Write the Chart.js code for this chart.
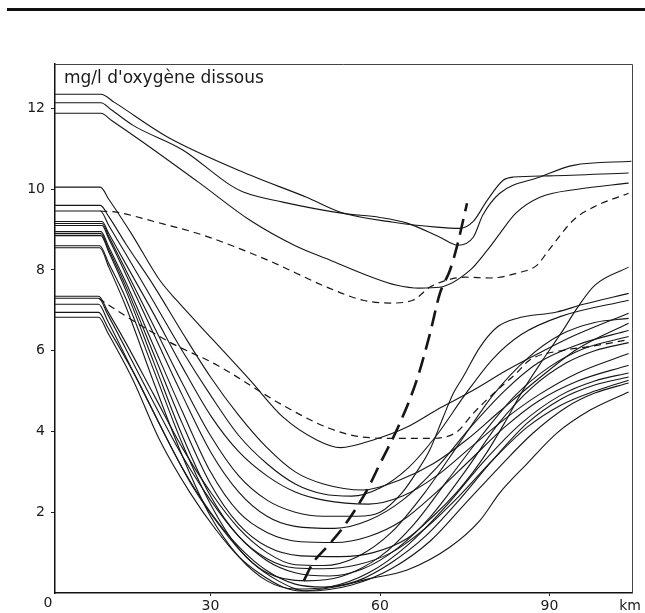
<!DOCTYPE html>
<html lang="fr">
<head>
<meta charset="UTF-8">
<title>Oxygène dissous</title>
<style>
    body { margin: 0; background: #fff; }
    #cadre { width: 645px; height: 613px; }
</style>
</head>
<body>
<div id="cadre"><canvas id="graphe" width="645" height="613"></canvas></div>

<script src="https://cdn.jsdelivr.net/npm/chart.js"></script>
<script>
// graduations
const xTicks = [30, 60, 90];
const yTicks = [2, 4, 6, 8, 10, 12];

// courbes du haut (départ > 11 mg/l) : [km, mg/l]
const t1 = [[2.5,12.35],[10.6,12.35],[13,12.15],[22.3,11.3],[37,10.35],[47,9.8],[53,9.43],[62.4,9.18],[70,9.06],[74.2,9.03],[76.5,9.2],[79,9.73],[81.8,10.22],[83.6,10.3],[90,10.33],[104,10.4]];
const t2 = [[2.5,12.14],[10.6,12.14],[12.5,11.96],[16.3,11.58],[25.1,10.97],[33.5,10.1],[35.8,9.93],[42.8,9.68],[53.5,9.4],[60,9.3],[64.8,9.16],[70.6,8.81],[73.8,8.61],[76.5,8.81],[78.2,9.36],[81.2,9.9],[88.3,10.3],[94.2,10.59],[104.5,10.69]];
const t3 = [[2.5,11.88],[10.6,11.88],[12.5,11.7],[19.3,11.04],[28.1,10.15],[37,9.23],[45,8.6],[51.2,8.24],[58,7.85],[63,7.62],[67,7.55],[70.5,7.57],[76,8.0],[79,8.49],[81.2,8.9],[84,9.4],[88.3,9.8],[95,10.0],[104,10.15]];

// courbes partant de 8,5 à 10 mg/l
const u1 = [[2.5,10.05],[10.5,10.05],[12,9.75],[16,8.9],[21,7.75],[24,7.25],[30.5,6.26],[37,5.27],[42.8,4.36],[48.8,3.79],[53,3.6],[58.8,3.79],[64.8,4.11],[70.6,4.58],[76.5,5.02],[82.5,5.52],[88.3,5.95],[94,6.35],[104,6.93]];
const u2 = [[2.5,9.6],[10.5,9.6],[12,9.32],[15,8.65],[20,7.6],[25,6.45],[30,5.35],[35,4.4],[40,3.6],[45,3.0],[50,2.7],[57,2.55],[63.5,2.8],[69.4,3.2],[75.4,3.8],[81.2,4.5],[88,5.3],[95,6.05],[104,6.68]];
const u3 = [[2.5,9.46],[10.5,9.46],[12,9.1],[15,8.4],[20,7.2],[25,6.0],[30,4.9],[35,3.9],[40,3.2],[45,2.7],[50,2.45],[55,2.4],[60,2.6],[65,3.1],[70,3.9],[75,4.9],[80,5.8],[85,6.4],[92,6.85],[104,7.25]];
const u4 = [[2.5,9.2],[10.8,9.2],[12,8.9],[15,8.15],[20,6.9],[25,5.6],[30,4.4],[35,3.5],[40,2.9],[45,2.5],[50,2.3],[58,2.2],[64,2.4],[70,2.9],[76,3.6],[82,4.3],[88,4.9],[95,5.45],[104,5.93]];
const u5 = [[2.5,9.15],[10.8,9.15],[12,8.83],[15,8.0],[20,6.6],[25,5.2],[30,3.9],[35,2.9],[40,2.3],[45,2.0],[50,1.9],[56,1.9],[60,2.0],[64,2.5],[66.5,3.0],[68.8,3.54],[71.2,4.36],[73,4.95],[74.7,5.35],[77.7,6.09],[80.7,6.58],[84.2,6.8],[91.3,6.96],[96,7.15],[104,7.42]];
const u6 = [[2.5,9.1],[10.8,9.1],[12,8.77],[15,7.9],[20,6.4],[25,4.9],[30,3.5],[35,2.5],[40,1.9],[45,1.65],[52,1.6],[58,1.8],[64,2.3],[70,3.1],[76,4.1],[82,5.0],[88,5.7],[95,6.15],[104,6.5]];
const u7 = [[2.5,8.95],[10.6,8.95],[12,8.57],[15,7.7],[20,6.1],[25,4.5],[30,3.0],[35,2.0],[40,1.5],[46,1.27],[52,1.25],[58,1.4],[64,1.8],[70,2.5],[76,3.3],[82,4.1],[88,4.75],[95,5.25],[104,5.64]];
const u8 = [[2.5,8.9],[10.6,8.9],[12,8.5],[15,7.6],[20,5.9],[25,4.2],[30,2.7],[35,1.7],[40,1.15],[46,0.92],[53,0.9],[58.8,1.0],[64.8,1.35],[69.4,1.9],[73.6,2.5],[76.5,3.0],[79,3.5],[82,4.2],[85,4.95],[88.8,5.77],[92.4,6.51],[95,7.08],[98,7.62],[104,8.07]];
const u9 = [[2.5,8.85],[10.6,8.85],[12,8.44],[15,7.5],[20,5.7],[25,3.9],[30,2.4],[35,1.4],[40,0.85],[45,0.62],[50,0.6],[56,0.7],[62,1.0],[68,1.6],[74,2.4],[80,3.3],[86,4.1],[92,4.65],[98,5.0],[104,5.27]];
const u10 = [[2.5,8.6],[10.4,8.6],[12,8.16],[15,7.3],[20,5.5],[25,3.7],[30,2.2],[35,1.1],[40,0.5],[47,0.3],[53,0.4],[60,0.9],[66,1.7],[72,2.8],[78,3.9],[84,4.9],[90,5.6],[96,6.05],[104,6.35]];
const u11 = [[2.5,8.55],[10.4,8.55],[12,8.07],[15,7.1],[20,5.2],[25,3.4],[30,1.9],[35,0.9],[40,0.3],[45,0.1],[51,0.15],[58,0.5],[65,1.2],[72,2.2],[78,3.2],[85,4.2],[92,4.9],[98,5.25],[104,5.45]];

// courbes partant de 6,8 à 7,4 mg/l
const g1 = [[2.5,6.83],[10.2,6.83],[11.8,6.45],[16.3,5.27],[21,3.79],[26.4,2.48],[31,1.56],[35,0.9],[38.5,0.5],[42.8,0.15],[46,0.05],[52,0.15],[58,0.35],[64.8,0.57],[72.4,1.14],[77.7,1.8],[81.2,2.48],[86,3.2],[91.3,3.96],[97.2,4.53],[104,4.98]];
const g2 = [[2.5,6.95],[10.2,6.95],[11.8,6.58],[17,5.3],[22,3.9],[27,2.6],[32,1.6],[37,0.8],[42,0.3],[47,0.05],[55,0.2],[62,0.6],[69,1.3],[75,2.2],[81,3.1],[87,3.95],[93,4.6],[98,4.95],[104,5.2]];
const g3 = [[2.5,7.15],[10.2,7.15],[11.8,6.74],[15,5.85],[20,4.45],[25,3.1],[30,2.0],[35,1.15],[40,0.55],[45,0.22],[50,0.15],[56,0.3],[62,0.75],[68,1.4],[74,2.3],[80,3.3],[86,4.2],[92,4.8],[98,5.15],[104,5.35]];
const g4 = [[2.5,7.3],[10.2,7.3],[11.8,6.9],[15,6.05],[20,4.7],[25,3.4],[30,2.3],[35,1.4],[40,0.8],[45,0.5],[51,0.42],[57,0.6],[63,1.1],[69,1.9],[75,3.0],[81,4.2],[87,5.1],[93,5.7],[98,6.0],[104,6.2]];
const g5 = [[2.5,7.35],[10.2,7.35],[11.8,6.98],[15,6.2],[20,4.9],[25,3.6],[30,2.5],[35,1.6],[40,1.0],[45,0.7],[50,0.68],[56,0.9],[62,1.5],[68,2.5],[74,3.7],[80,4.9],[86,5.8],[92,6.4],[98,6.7],[104,6.8]];

// courbes en tirets
const d1 = [[10.5,9.46],[13.4,9.43],[20,9.2],[28.7,8.86],[40,8.25],[51,7.55],[57,7.25],[61.8,7.18],[65.8,7.25],[68.8,7.57],[71.9,7.75],[75,7.82],[79.5,7.8],[84.2,7.92],[87.8,8.12],[89.6,8.44],[94.2,9.23],[97.7,9.55],[104,9.9]];
const d2 = [[10.2,7.3],[13.4,7.0],[22.8,6.21],[31.2,5.64],[42.8,4.65],[51,4.08],[57,3.86],[63,3.83],[68.8,3.83],[73.6,3.99],[76.5,4.45],[80.7,5.02],[84.2,5.45],[86.5,5.77],[92.4,6.01],[97,6.1],[103.5,6.26]];
const front = [[46.5,0.3],[48.1,0.74],[50.6,1.14],[53.5,1.63],[57.7,2.55],[60,3.2],[63.5,4.2],[66.5,5.27],[68.8,6.4],[70.6,7.42],[72.4,8.0],[73.6,8.57],[75.4,9.65]];

const pleines = [t1, t2, t3, u1, u2, u3, u4, u5, u6, u7, u8, u9, u10, u11, g1, g2, g3, g4, g5];

function serie(pts, extra) {
    return Object.assign({
        data: pts.map(p => ({ x: p[0], y: p[1] })),
        borderColor: '#161616',
        borderWidth: 1.1,
        pointRadius: 0,
        fill: false,
        cubicInterpolationMode: 'monotone'
    }, extra || {});
}

const datasets = pleines.map(c => serie(c));
datasets.push(serie(d1, { borderDash: [7, 5], borderWidth: 1.2 }));
datasets.push(serie(d2, { borderDash: [7, 5], borderWidth: 1.2 }));
datasets.push(serie(front, { borderDash: [16, 8], borderWidth: 2.6 }));

// cadre, filet du haut et textes
const decor = {
    id: 'decor',
    beforeDraw(chart) {
        const ctx = chart.ctx;
        ctx.save();
        ctx.fillStyle = '#fff';
        ctx.fillRect(0, 0, chart.width, chart.height);
        ctx.fillStyle = '#111';
        ctx.fillRect(7, 8, 638, 3);
        ctx.restore();
    },
    afterDraw(chart) {
        const ctx = chart.ctx;
        const a = chart.chartArea;
        ctx.save();
        ctx.strokeStyle = '#444';
        ctx.lineWidth = 1;
        ctx.beginPath();
        ctx.moveTo(a.left, a.top + 0.5);
        ctx.lineTo(a.right + 0.5, a.top + 0.5);
        ctx.lineTo(a.right + 0.5, a.bottom);
        ctx.stroke();
        ctx.fillStyle = '#1a1a1a';
        ctx.font = '17px "DejaVu Sans"';
        ctx.textBaseline = 'middle';
        ctx.fillText("mg/l d'oxygène dissous", 64, 79);
        ctx.font = '14px "DejaVu Sans"';
        ctx.textAlign = 'center';
        ctx.fillText('0', 48, 603);
        ctx.fillText('km', 630, 606);
        ctx.restore();
    }
};

new Chart(document.getElementById('graphe'), {
    type: 'line',
    data: { datasets: datasets },
    options: {
        responsive: false,
        animation: false,
        layout: { padding: { top: 64, right: 13, left: 0, bottom: 0 } },
        plugins: { legend: { display: false }, tooltip: { enabled: false } },
        scales: {
            x: {
                type: 'linear',
                min: 2.48,
                max: 104.6,
                afterBuildTicks: s => { s.ticks = xTicks.map(v => ({ value: v })); },
                afterFit: s => { s.height = 20; },
                ticks: { color: '#1a1a1a', font: { family: 'DejaVu Sans', size: 14 }, padding: 2, maxRotation: 0 },
                grid: { drawOnChartArea: false, tickLength: 3, color: '#222' },
                border: { color: '#111', width: 1.5 }
            },
            y: {
                min: 0,
                max: 13.1,
                afterBuildTicks: s => { s.ticks = yTicks.map(v => ({ value: v })); },
                afterFit: s => { s.width = 55; },
                ticks: { color: '#1a1a1a', font: { family: 'DejaVu Sans', size: 14 }, padding: 6 },
                grid: { drawOnChartArea: false, tickLength: 4, color: '#222' },
                border: { color: '#111', width: 1.5 }
            }
        }
    },
    plugins: [decor]
});
</script>
</body>
</html>
